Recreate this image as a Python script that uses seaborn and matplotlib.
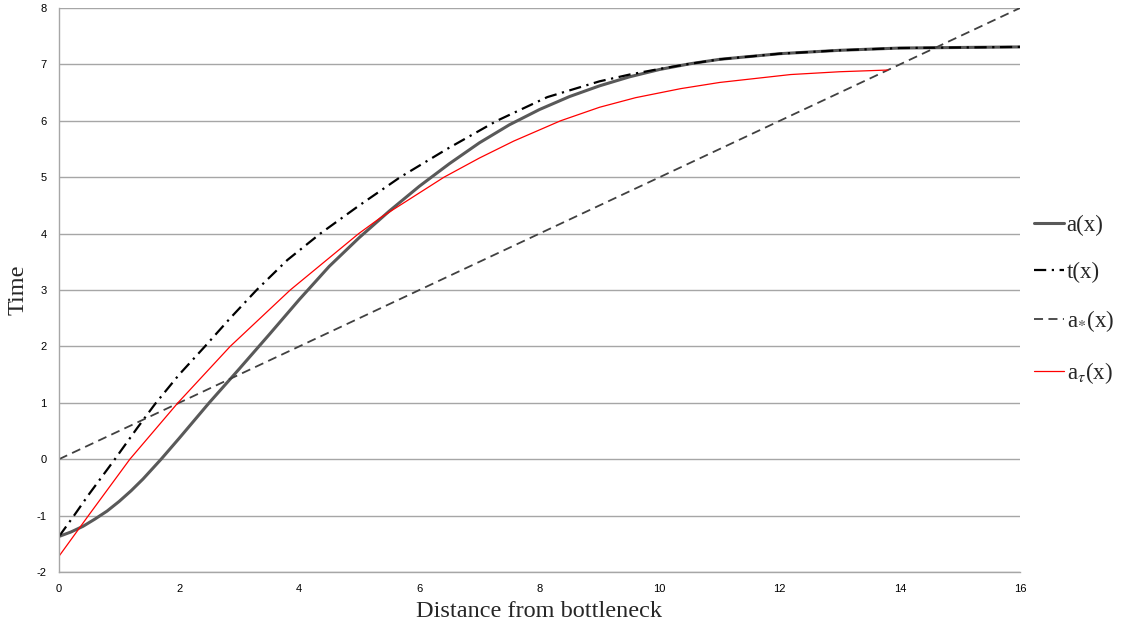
import numpy as np
import pandas as pd
import matplotlib
matplotlib.use("Agg")
import matplotlib.pyplot as plt
import seaborn as sns

# values
a_x = [0, 0.2, 0.4, 0.6, 0.8, 1.0, 1.2, 1.4, 1.7, 2.0, 2.5, 3.0, 3.5, 4.0, 4.5, 5.0, 5.5,
       6.0, 6.5, 7.0, 7.5, 8.0, 8.5, 9.0, 9.5, 10.0, 10.5, 11.0, 12.0, 13.0, 14.0, 15.0, 16.0]
a_y = [-1.37, -1.29, -1.19, -1.06, -0.92, -0.75, -0.56, -0.35, 0.0, 0.37, 1.0, 1.6, 2.21,
       2.83, 3.42, 3.93, 4.4, 4.84, 5.24, 5.61, 5.93, 6.2, 6.43, 6.62, 6.78, 6.91, 7.01,
       7.09, 7.19, 7.25, 7.29, 7.3, 7.31]

t_x = [0, 0.25, 0.5, 0.93, 1.3, 1.6, 2.0, 2.43, 2.85, 3.29, 3.8, 4.35, 5.0, 5.68, 6.46,
       7.29, 8.13, 9.0, 9.5, 10.0, 10.5, 11.0, 12.0, 13.0, 14.0, 15.0, 16.0]
t_y = [-1.37, -1.0, -0.62, 0.0, 0.55, 0.98, 1.5, 2.0, 2.5, 3.0, 3.53, 4.0, 4.5, 5.0, 5.5,
       6.0, 6.42, 6.7, 6.82, 6.92, 7.01, 7.09, 7.19, 7.25, 7.29, 7.3, 7.31]

s_x = [0, 16]
s_y = [0, 8]

r_x = [0, 0.49, 1.18, 1.98, 2.85, 3.85, 4.99, 5.35, 6.41, 7.0, 7.57, 8.35, 9.0, 9.6,
       10.35, 11.0, 12.18, 13.0, 13.8]
r_y = [-1.72, -1.0, 0.0, 1.0, 2.0, 3.0, 4.0, 4.28, 5.0, 5.34, 5.64, 6.0, 6.24, 6.41,
       6.57, 6.68, 6.82, 6.87, 6.9]

labels = ["a(x)", "t(x)", r"a$_{*}$(x)", r"a$_{\tau}$(x)"]

sns.set_style("white")
plt.rcParams["font.family"] = ["Liberation Sans", "DejaVu Sans"]
plt.rcParams["mathtext.fontset"] = "stix"
plt.rcParams["axes.unicode_minus"] = False

fig = plt.figure(figsize=(11.21, 6.25), dpi=100)
ax = fig.add_axes([59 / 1121, 53 / 625, 961 / 1121, 564 / 625])

sns.lineplot(x=a_x, y=a_y, ax=ax, color="#595959", linewidth=2.2, label=labels[0], sort=False)
sns.lineplot(x=t_x, y=t_y, ax=ax, color="black", linewidth=1.6, label=labels[1], sort=False)
sns.lineplot(x=s_x, y=s_y, ax=ax, color="#404040", linewidth=1.3, label=labels[2], sort=False)
sns.lineplot(x=r_x, y=r_y, ax=ax, color="#ff0000", linewidth=0.9, label=labels[3], sort=False)

lines = ax.get_lines()
lines[1].set_dashes([5.5, 2.5, 1, 2.5])
lines[2].set_dashes([5, 3])
for ln in lines:
    ln.set_solid_joinstyle("round")
    ln.set_dash_joinstyle("round")

ax.set_xlim(0, 16)
ax.set_ylim(-2, 8)
ax.set_xticks(range(0, 17, 2))
ax.set_yticks(range(-2, 9))
ax.yaxis.grid(True, color="#a6a6a6", linewidth=1.0)
ax.set_axisbelow(True)
for side in ["top", "right"]:
    ax.spines[side].set_visible(False)
for side in ["left", "bottom"]:
    ax.spines[side].set_color("#a6a6a6")
    ax.spines[side].set_linewidth(1.0)
ax.tick_params(axis="both", length=0, labelsize=8, colors="black")
ax.tick_params(axis="x", pad=9)
ax.tick_params(axis="y", pad=9)

ax.set_xlabel("Distance from bottleneck", fontsize=17.5, family="Liberation Serif", labelpad=5)
ax.set_ylabel("Time", fontsize=17.5, family="Liberation Serif", labelpad=6)

leg = ax.legend(loc="center left", bbox_to_anchor=(1.0146, 0.482), frameon=False,
                handlelength=1.3, handletextpad=0.12, labelspacing=1.12,
                borderaxespad=0, borderpad=0,
                prop={"family": "Liberation Serif", "size": 16.5})

fig.savefig("out.png", dpi=100)
